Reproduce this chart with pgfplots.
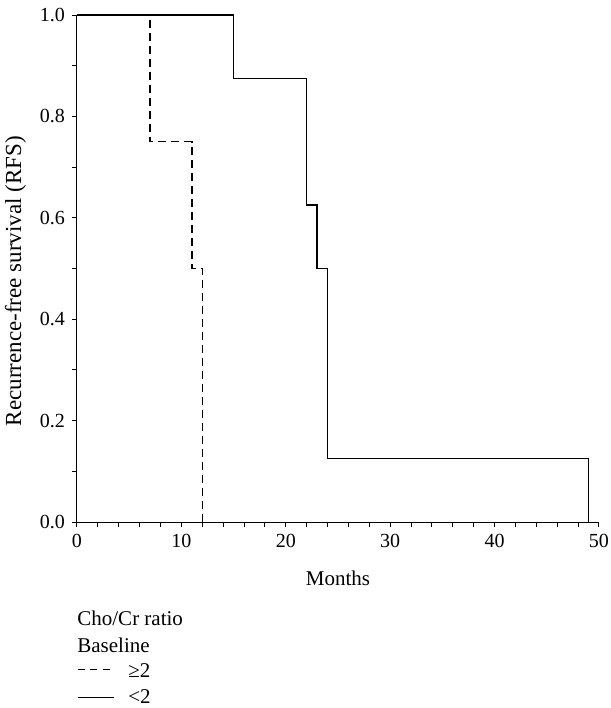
\documentclass[border=0pt]{standalone}
\usepackage{fontspec}
\setmainfont{Liberation Serif}
\usepackage{pgfplots}
\pgfplotsset{compat=1.18}

\begin{document}
\begin{tikzpicture}[font=\fontsize{10.5}{12.5}\selectfont]
    % fix the page to the reference's proportions (611x708 px, 1 px = 0.5 pt)
    \useasboundingbox (-38.5pt,-93pt) rectangle (267pt,261pt);
    \begin{axis}[
        name=ax,
        scale only axis,
        width=261pt, height=253.5pt,
        axis lines=left,
        axis line style={-, line width=0.5pt},
        xmin=0, xmax=50, ymin=0, ymax=1,
        enlargelimits=false,
        clip=false,
        xtick={0,10,...,50},
        ytick={0,0.2,...,1.0},
        minor xtick={2,4,6,8,12,14,16,18,22,24,26,28,32,34,36,38,42,44,46,48},
        minor ytick={0.1,0.3,0.5,0.7,0.9},
        tick align=outside,
        major tick length=2.5pt, minor tick length=2.5pt,
        every tick/.style={black, line width=0.5pt},
        tick label style={font=\fontsize{10}{12}\selectfont},
        yticklabel style={/pgf/number format/fixed, /pgf/number format/fixed zerofill, /pgf/number format/precision=1},
        /pgf/number format/assume math mode=true,
        xlabel={Months},
        ylabel={Recurrence-free survival (RFS)},
        xlabel style={at={(axis description cs:0.5,-0.112)}, anchor=center},
        ylabel style={at={(axis description cs:-0.118,0.475)}, anchor=center, font=\fontsize{11.5}{13}\selectfont},
    ]
    % Cho/Cr ratio >= 2 (dashed)
    \addplot[black, line width=0.7pt, dash pattern=on 4pt off 2.5pt] coordinates {
        (0,1) (7,1) (7,0.75) (11,0.75) (11,0.5) (12,0.5) (12,0)
    };
    % Cho/Cr ratio < 2 (solid)
    \addplot[black, line width=0.7pt] coordinates {
        (0,1) (15,1) (15,0.875) (22,0.875) (22,0.625) (23,0.625) (23,0.5) (24,0.5) (24,0.125) (49,0.125) (49,0)
    };
    \end{axis}
    % legend below the axis
    \node[anchor=base west, inner sep=0] at ([yshift=-51.5pt]ax.south west) {Cho/Cr ratio};
    \node[anchor=base west, inner sep=0] at ([yshift=-65pt]ax.south west) {Baseline};
    \draw[black, line width=0.5pt, dash pattern=on 3.5pt off 2.75pt] ([xshift=0.5pt,yshift=-73.5pt]ax.south west) -- ++(16pt,0);
    \node[anchor=base west, inner sep=0] at ([xshift=25.5pt,yshift=-77.5pt]ax.south west) {≥2};
    \draw[black, line width=0.5pt] ([xshift=0.5pt,yshift=-87.5pt]ax.south west) -- ++(18pt,0);
    \node[anchor=base west, inner sep=0] at ([xshift=25.5pt,yshift=-90.5pt]ax.south west) {<2};
\end{tikzpicture}
\end{document}
